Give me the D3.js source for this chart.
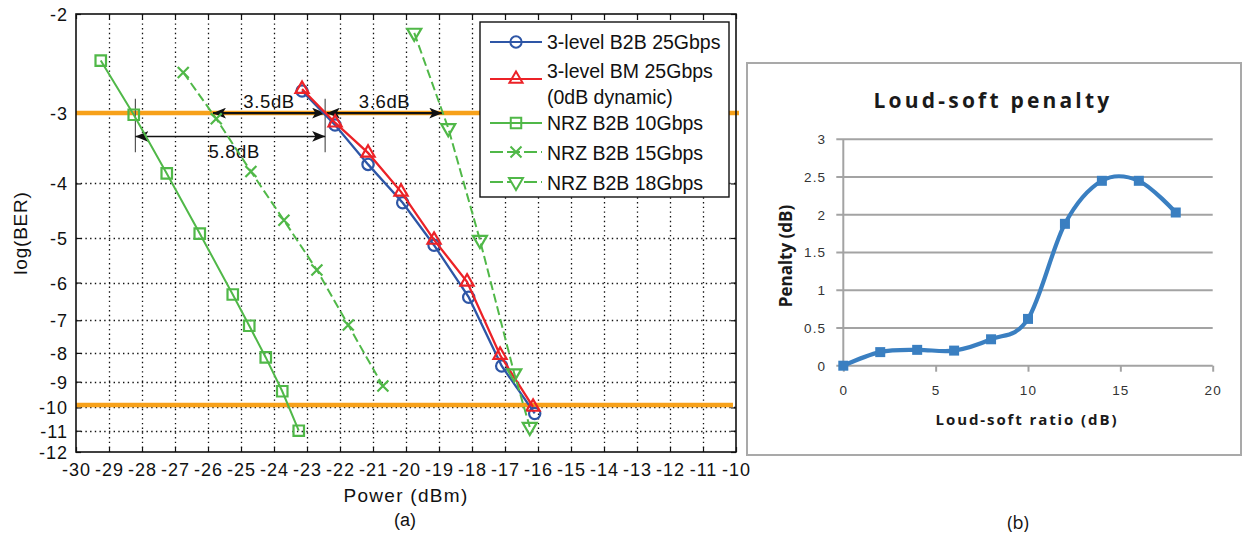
<!DOCTYPE html>
<html>
<head>
<meta charset="utf-8">
<script src="https://cdn.jsdelivr.net/npm/d3@7"></script>
<style>
    body { margin: 0; background: #fff; }
    svg { display: block; }
</style>
</head>
<body>
<div id="chart"></div>
<script>
// (a) BER curves: power in dBm, log10(BER)
const seriesNames = ['3-level B2B 25Gbps', '3-level BM 25Gbps', 'NRZ B2B 10Gbps', 'NRZ B2B 15Gbps', 'NRZ B2B 18Gbps'];
const powerB2B25 = [-23.15, -22.15, -21.15, -20.1, -19.15, -18.1, -17.1, -16.1];
const berB2B25 = [-2.74, -3.15, -3.70, -4.33, -5.15, -6.37, -8.44, -10.25];
const powerBM25 = [-23.15, -22.15, -21.15, -20.15, -19.15, -18.15, -17.15, -16.15];
const berBM25 = [-2.72, -3.12, -3.53, -4.14, -5.04, -5.98, -8.07, -9.98];
const powerNRZ10 = [-29.25, -28.25, -27.25, -26.25, -25.25, -24.75, -24.25, -23.75, -23.25];
const berNRZ10 = [-2.42, -3.02, -3.84, -4.91, -6.30, -7.16, -8.15, -9.36, -11.0];
const powerNRZ15 = [-26.75, -25.75, -24.7, -23.7, -22.7, -21.75, -20.7];
const berNRZ15 = [-2.54, -3.07, -3.81, -4.65, -5.70, -7.14, -9.16];
const powerNRZ18 = [-19.75, -18.72, -17.76, -16.72, -16.25];
const berNRZ18 = [-2.16, -3.19, -5.04, -8.70, -10.83];

const powerTicks = d3.range(-30, -9, 1);
const berTicks = d3.range(-2, -13, -1);
const thresholds = [-3, -9.9];

// dB gap annotations
const gapFrom = [-25.85, -22.4, -28.2];
const gapTo = [-22.45, -18.9, -22.45];
const gapAt = [-3, -3, -3.3];
const gapLabels = ['3.5dB', '3.6dB', '5.8dB'];
const refPower = [-28.2, -22.45];
const refBer = [-2.83, -3.52];

// (b) loud-soft penalty
const ratio = [0, 2, 4, 6, 8, 10, 12, 14, 16, 18];
const penalty = [0, 0.18, 0.21, 0.20, 0.35, 0.62, 1.88, 2.45, 2.45, 2.03];
const ratioTicks = [0, 5, 10, 15, 20];
const penaltyTicks = [0, 0.5, 1, 1.5, 2, 2.5, 3];

const blue = '#2e56a6', red = '#ec2227', green = '#50b848', orange = '#f7a11a';

const svg = d3.select('#chart').append('svg')
    .attr('width', 1243)
    .attr('height', 535);

svg.append('rect').attr('width', 1243).attr('height', 535).attr('fill', '#fff');

const defs = svg.append('defs');
defs.append('marker')
    .attr('id', 'head')
    .attr('markerUnits', 'userSpaceOnUse')
    .attr('viewBox', '0 -5 12 10')
    .attr('refX', 12).attr('refY', 0)
    .attr('markerWidth', 13).attr('markerHeight', 11)
    .attr('orient', 'auto-start-reverse')
    .append('path')
    .attr('d', 'M0,-5L12,0L0,5L3,0Z')
    .attr('fill', '#111');

// ---------- chart (a) ----------
const aLeft = 76, aRight = 736, aTop = 14, aBottom = 452;
const x = d3.scaleLinear().domain([-30, -10]).range([aLeft, aRight]);
const yLog = d3.scaleLog().domain([2, 12]).range([aTop, aBottom]);
const y = v => yLog(-v);

const a = svg.append('g').style('font-family', '"Liberation Sans", Arial, sans-serif');

// dotted grid
a.append('g').selectAll('line').data(powerTicks.slice(1, -1)).enter()
    .append('line')
    .attr('x1', d => Math.round(x(d)) + 0.5).attr('x2', d => Math.round(x(d)) + 0.5)
    .attr('y1', aTop).attr('y2', aBottom)
    .attr('stroke', '#111').attr('stroke-width', 1.3)
    .attr('stroke-dasharray', '1.4,3.3');
a.append('g').selectAll('line').data(berTicks.slice(1, -1)).enter()
    .append('line')
    .attr('x1', aLeft).attr('x2', aRight)
    .attr('y1', d => Math.round(y(d)) + 0.5).attr('y2', d => Math.round(y(d)) + 0.5)
    .attr('stroke', '#111').attr('stroke-width', 1.3)
    .attr('stroke-dasharray', '1.4,3.3');

// axes with inward ticks
a.append('g')
    .attr('transform', `translate(0,${aBottom})`)
    .call(d3.axisBottom(x).tickValues(powerTicks).tickSize(-5).tickPadding(11).tickFormat(d => String(d)));
a.append('g')
    .attr('transform', `translate(0,${aTop})`)
    .call(d3.axisTop(x).tickValues(powerTicks).tickSize(-5).tickFormat(''));
const yAxis = a.append('g')
    .attr('transform', `translate(${aLeft},0)`)
    .call(d3.axisLeft(yLog).tickValues(berTicks.map(d => -d)).tickSize(-5).tickPadding(8).tickFormat(d => '-' + d));
a.append('g')
    .attr('transform', `translate(${aRight},0)`)
    .call(d3.axisRight(yLog).tickValues(berTicks.map(d => -d)).tickSize(-5).tickFormat(''));
a.selectAll('.domain').remove();
a.selectAll('.tick line').attr('stroke', '#111').attr('stroke-width', 1.2);
a.selectAll('.tick text').attr('fill', '#111').style('font-size', '18px').style('letter-spacing', '1px');
yAxis.selectAll('.tick text').attr('dy', '0.36em');

// threshold lines
a.append('g').selectAll('line').data(thresholds).enter()
    .append('line')
    .attr('x1', x(-30)).attr('x2', (d, i) => x(-10) + (i === 0 ? 3 : -3))
    .attr('y1', d => y(d)).attr('y2', d => y(d))
    .attr('stroke', orange).attr('stroke-width', 4.5);

// frame
a.append('rect')
    .attr('x', aLeft).attr('y', aTop)
    .attr('width', aRight - aLeft).attr('height', aBottom - aTop)
    .attr('fill', 'none').attr('stroke', '#111').attr('stroke-width', 1.6);

// gap annotations
a.append('g').selectAll('line').data(refPower).enter()
    .append('line')
    .attr('x1', d => x(d)).attr('x2', d => x(d))
    .attr('y1', y(refBer[0])).attr('y2', y(refBer[1]))
    .attr('stroke', '#555').attr('stroke-width', 1.2);
a.append('g').selectAll('line').data(gapLabels).enter()
    .append('line')
    .attr('x1', (d, i) => x(gapFrom[i])).attr('x2', (d, i) => x(gapTo[i]))
    .attr('y1', (d, i) => y(gapAt[i])).attr('y2', (d, i) => y(gapAt[i]))
    .attr('stroke', '#111').attr('stroke-width', (d, i) => i < 2 ? 2.4 : 1.5)
    .attr('marker-start', 'url(#head)').attr('marker-end', 'url(#head)');
a.append('g').selectAll('text').data(gapLabels).enter()
    .append('text')
    .attr('x', (d, i) => (x(gapFrom[i]) + x(gapTo[i])) / 2 + (i === 2 ? 4 : 0))
    .attr('y', (d, i) => y(gapAt[i]) + (i < 2 ? -5 : 22))
    .attr('text-anchor', 'middle')
    .attr('fill', '#111')
    .style('font-size', '18.5px').style('letter-spacing', '0.6px')
    .text(d => d);

// series
const series = [
    { name: seriesNames[0], xs: powerB2B25, ys: berB2B25, color: blue, dash: null, mark: 'circle' },
    { name: seriesNames[1], xs: powerBM25, ys: berBM25, color: red, dash: null, mark: 'triangle' },
    { name: seriesNames[2], xs: powerNRZ10, ys: berNRZ10, color: green, dash: null, mark: 'square' },
    { name: seriesNames[3], xs: powerNRZ15, ys: berNRZ15, color: green, dash: '9,4', mark: 'cross' },
    { name: seriesNames[4], xs: powerNRZ18, ys: berNRZ18, color: green, dash: '9,4', mark: 'down' }
];

const markPath = {
    circle: d3.symbol().type(d3.symbolCircle).size(100)(),
    square: d3.symbol().type(d3.symbolSquare).size(110)(),
    triangle: d3.symbol().type(d3.symbolTriangle).size(75)(),
    down: d3.symbol().type(d3.symbolTriangle).size(85)(),
    cross: 'M-5.5,-5.5L5.5,5.5M-5.5,5.5L5.5,-5.5'
};

const line = d3.line().x(d => x(d[0])).y(d => y(d[1]));

series.forEach(s => {
    const pts = s.xs.map((v, i) => [v, s.ys[i]]);
    const g = a.append('g');
    g.append('path')
        .attr('d', line(pts))
        .attr('fill', 'none')
        .attr('stroke', s.color)
        .attr('stroke-width', s.color === green ? 2 : 2.3)
        .attr('stroke-dasharray', s.dash);
    g.selectAll('path.m').data(pts).enter()
        .append('path')
        .attr('class', 'm')
        .attr('d', markPath[s.mark])
        .attr('transform', d => `translate(${x(d[0])},${y(d[1])})` + (s.mark === 'down' ? ' rotate(180)' : ''))
        .attr('fill', 'none')
        .attr('stroke', s.color)
        .attr('stroke-width', 2.2);
});

// legend
const legend = a.append('g');
legend.append('rect')
    .attr('x', 480).attr('y', 22).attr('width', 249).attr('height', 175)
    .attr('fill', '#fff').attr('stroke', '#111').attr('stroke-width', 1.4);
const rowY = [42, 79, 123, 152, 182];
const textY = [[42], [71, 97], [123], [153], [183]];
const textRows = [[seriesNames[0]], [seriesNames[1], '(0dB dynamic)'], [seriesNames[2]], [seriesNames[3]], [seriesNames[4]]];
series.forEach((s, i) => {
    legend.append('line')
        .attr('x1', 490).attr('x2', 542)
        .attr('y1', rowY[i]).attr('y2', rowY[i])
        .attr('stroke', s.color).attr('stroke-width', 2)
        .attr('stroke-dasharray', s.dash ? '13,4' : null);
    legend.append('path')
        .attr('d', markPath[s.mark])
        .attr('transform', `translate(516,${rowY[i]})` + (s.mark === 'down' ? ' rotate(180)' : ''))
        .attr('fill', s.dash ? '#fff' : 'none')
        .attr('stroke', s.color).attr('stroke-width', 2);
    textRows[i].forEach((t, j) => {
        legend.append('text')
            .attr('x', 547).attr('y', textY[i][j]).attr('dy', '0.36em')
            .attr('fill', '#111')
            .style('font-size', '19.5px')
            .text(t);
    });
});

// titles
a.append('text')
    .attr('x', 406).attr('y', 495).attr('dy', '0.36em')
    .attr('text-anchor', 'middle').attr('fill', '#111')
    .style('font-size', '19px').style('letter-spacing', '1.3px')
    .text('Power (dBm)');
a.append('text')
    .attr('transform', 'translate(20,233) rotate(-90)')
    .attr('dy', '0.36em')
    .attr('text-anchor', 'middle').attr('fill', '#111')
    .style('font-size', '19px').style('letter-spacing', '0.8px')
    .text('log(BER)');
a.append('text')
    .attr('x', 405).attr('y', 520).attr('dy', '0.36em')
    .attr('text-anchor', 'middle').attr('fill', '#111')
    .style('font-size', '18px')
    .text('(a)');

// ---------- chart (b) ----------
const b = svg.append('g').style('font-family', '"Open Sans", "Noto Sans", sans-serif');
const bl = 843.3, br = 1212.7, bt = 139.3, bb = 365.7;
const x2 = d3.scaleLinear().domain([0, 20]).range([bl, br]);
const y2 = d3.scaleLinear().domain([0, 3]).range([bb, bt]);

b.append('rect')
    .attr('x', 747).attr('y', 63).attr('width', 494).attr('height', 392)
    .attr('fill', '#fff').attr('stroke', '#a9a9a9').attr('stroke-width', 2);

b.append('g').selectAll('line').data(penaltyTicks).enter()
    .append('line')
    .attr('x1', bl - 7).attr('x2', br)
    .attr('y1', d => y2(d)).attr('y2', d => y2(d))
    .attr('stroke', '#a3a3a3').attr('stroke-width', 2);
b.append('line')
    .attr('x1', bl).attr('x2', bl).attr('y1', bt).attr('y2', bb)
    .attr('stroke', '#a3a3a3').attr('stroke-width', 2);

const bx = b.append('g')
    .attr('transform', `translate(0,${bb})`)
    .call(d3.axisBottom(x2).tickValues(ratioTicks).tickSize(6).tickPadding(14));
b.append('g')
    .attr('transform', `translate(${bl},0)`)
    .call(d3.axisLeft(y2).tickValues(penaltyTicks).tickSize(0).tickPadding(17).tickFormat(d3.format('')));
b.selectAll('.domain').remove();
bx.selectAll('.tick line').attr('stroke', '#a3a3a3').attr('stroke-width', 2);
b.selectAll('.tick text').attr('fill', '#333').style('font-size', '13.5px').style('letter-spacing', '1.2px');

const curve = d3.line()
    .x(d => x2(d[0])).y(d => y2(d[1]))
    .curve(d3.curveCardinal.tension(0));
const pts2 = ratio.map((v, i) => [v, penalty[i]]);
b.append('path')
    .attr('d', curve(pts2))
    .attr('fill', 'none').attr('stroke', '#3a7fc1').attr('stroke-width', 4.2);
b.selectAll('rect.pt').data(pts2).enter()
    .append('rect')
    .attr('class', 'pt')
    .attr('x', d => x2(d[0]) - 5).attr('y', d => y2(d[1]) - 5)
    .attr('width', 10).attr('height', 10)
    .attr('fill', '#3a7fc1');

b.append('text')
    .attr('x', 993).attr('y', 100).attr('dy', '0.36em')
    .attr('text-anchor', 'middle').attr('fill', '#1a1a1a')
    .style('font-size', '21px').style('font-weight', 'bold').style('letter-spacing', '3.2px')
    .text('Loud-soft penalty');
b.append('text')
    .attr('x', 1027).attr('y', 420).attr('dy', '0.36em')
    .attr('text-anchor', 'middle').attr('fill', '#1a1a1a')
    .style('font-size', '15px').style('font-weight', 'bold').style('letter-spacing', '1.9px')
    .text('Loud-soft ratio (dB)');
b.append('text')
    .attr('transform', 'translate(786,256) rotate(-90)')
    .attr('dy', '0.36em')
    .attr('text-anchor', 'middle').attr('fill', '#1a1a1a')
    .style('font-size', '17px').style('font-weight', 'bold')
    .text('Penalty (dB)');
b.append('text')
    .attr('x', 1018).attr('y', 523).attr('dy', '0.36em')
    .attr('text-anchor', 'middle').attr('fill', '#111')
    .style('font-size', '18px')
    .text('(b)');
</script>
</body>
</html>
